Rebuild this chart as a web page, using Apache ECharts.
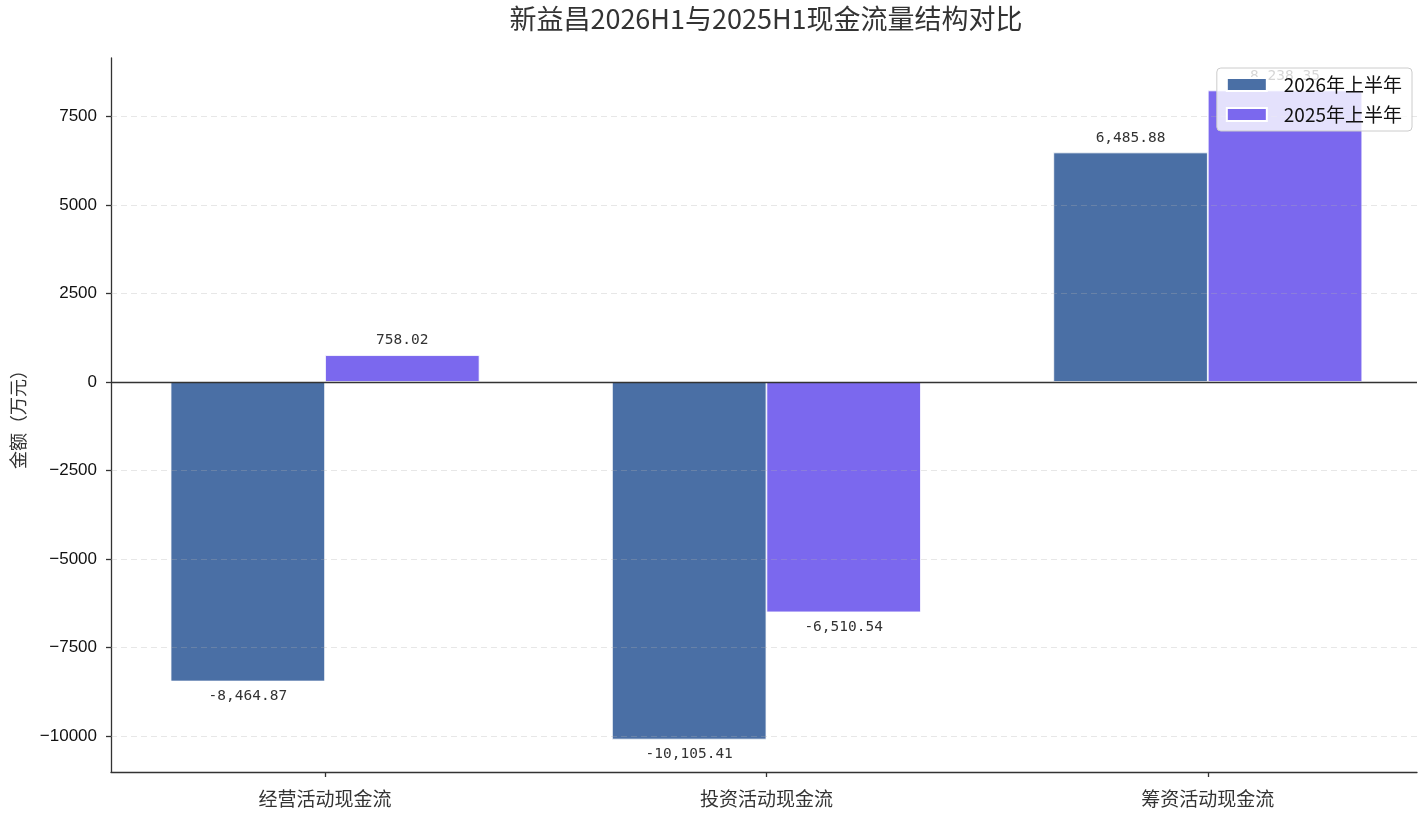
<!DOCTYPE html>
<html>
<head>
<meta charset="utf-8">
<script src="https://cdn.jsdelivr.net/npm/echarts@6/dist/echarts.min.js"></script>
<style>
html,body{margin:0;padding:0;background:#fff;}
#chart{width:1418px;height:814px;}
</style>
</head>
<body>
<div id="chart"></div>
<script>
const categories = ['经营活动现金流', '投资活动现金流', '筹资活动现金流'];
const series2026 = [-8464.87, -10105.41, 6485.88];
const series2025 = [758.02, -6510.54, 8238.35];
const seriesNames = ['2026年上半年', '2025年上半年'];
const yTicks = [-10000, -7500, -5000, -2500, 0, 2500, 5000, 7500];
const xTicks = [0, 1, 2];

const OFFSET = 0.175;
const colors = ['#4a6fa5', '#7b68ee'];

function fmt(v) {
  return v.toLocaleString('en-US', {minimumFractionDigits: 2, maximumFractionDigits: 2});
}
function makeData(vals, off) {
  return vals.map((v, i) => ({
    value: [i + off, v],
    label: {position: v < 0 ? 'bottom' : 'top'}
  }));
}
const labelStyle = {
  show: true,
  distance: 7,
  fontFamily: 'DejaVu Sans Mono',
  fontSize: 14.5,
  color: '#333',
  formatter: p => fmt(p.value[1])
};

const gridLines = yTicks.filter(t => t !== 0).map(t => ({
  yAxis: t,
  lineStyle: {color: 'rgba(176,176,176,0.3)', type: [6, 4], width: 1}
}));
gridLines.push({yAxis: 0, lineStyle: {color: '#333', type: 'solid', width: 1.3}});

const chart = echarts.init(document.getElementById('chart'));
chart.setOption({
  animation: false,
  title: {
    text: '新益昌2026H1与2025H1现金流量结构对比',
    left: 766,
    top: 5,
    textAlign: 'center',
    padding: 0,
    textStyle: {fontFamily: 'Noto Sans CJK SC', fontSize: 27, fontWeight: 'normal', color: '#333'}
  },
  legend: {
    orient: 'vertical',
    right: 6,
    top: 68,
    itemWidth: 40,
    itemHeight: 13,
    itemGap: 11,
    padding: [7, 10, 7, 9],
    backgroundColor: 'rgba(255,255,255,0.8)',
    borderColor: '#ccc',
    borderWidth: 1,
    borderRadius: 4,
    icon: 'rect',
    textStyle: {fontFamily: 'Noto Sans CJK SC', fontSize: 19, color: '#111', padding: [0, 0, 0, 12]},
    data: seriesNames
  },
  grid: {left: 111, right: 1, top: 58, bottom: 42, containLabel: false, outerBoundsMode: 'none'},
  xAxis: {
    type: 'value',
    min: -0.485,
    max: 2.474,
    axisLine: {show: true, onZero: false, lineStyle: {color: '#333', width: 1.3}},
    axisTick: {show: true, customValues: xTicks, length: 5, lineStyle: {color: '#333', width: 1.3}},
    axisLabel: {
      customValues: xTicks,
      formatter: v => categories[Math.round(v)] || '',
      fontFamily: 'Noto Sans CJK SC',
      fontSize: 19,
      color: '#333',
      margin: 17
    },
    splitLine: {show: false}
  },
  yAxis: {
    type: 'value',
    min: -11022,
    max: 9155,
    name: '金额（万元）',
    nameLocation: 'middle',
    nameGap: 84,
    nameTextStyle: {fontFamily: 'Noto Sans CJK SC', fontSize: 18, color: '#333'},
    axisLine: {show: true, onZero: false, lineStyle: {color: '#333', width: 1.3}},
    axisTick: {show: true, customValues: yTicks, length: 5, lineStyle: {color: '#333', width: 1.3}},
    axisLabel: {
      customValues: yTicks,
      formatter: v => String(v).replace('-', '\u2212'),
      fontFamily: 'Liberation Sans',
      fontSize: 17,
      color: '#111',
      margin: 14
    },
    splitLine: {show: false}
  },
  series: [
    {
      name: seriesNames[0],
      type: 'bar',
      barWidth: 154.5,
      barGap: '-100%',
      itemStyle: {color: colors[0], borderColor: '#fff', borderWidth: 0.8},
      label: labelStyle,
      data: makeData(series2026, -OFFSET)
    },
    {
      name: seriesNames[1],
      type: 'bar',
      barWidth: 154.5,
      barGap: '-100%',
      itemStyle: {color: colors[1], borderColor: '#fff', borderWidth: 0.8},
      label: labelStyle,
      data: makeData(series2025, OFFSET),
      markLine: {
        silent: true,
        symbol: 'none',
        z: 3,
        label: {show: false},
        data: gridLines
      }
    }
  ]
});
</script>
</body>
</html>
